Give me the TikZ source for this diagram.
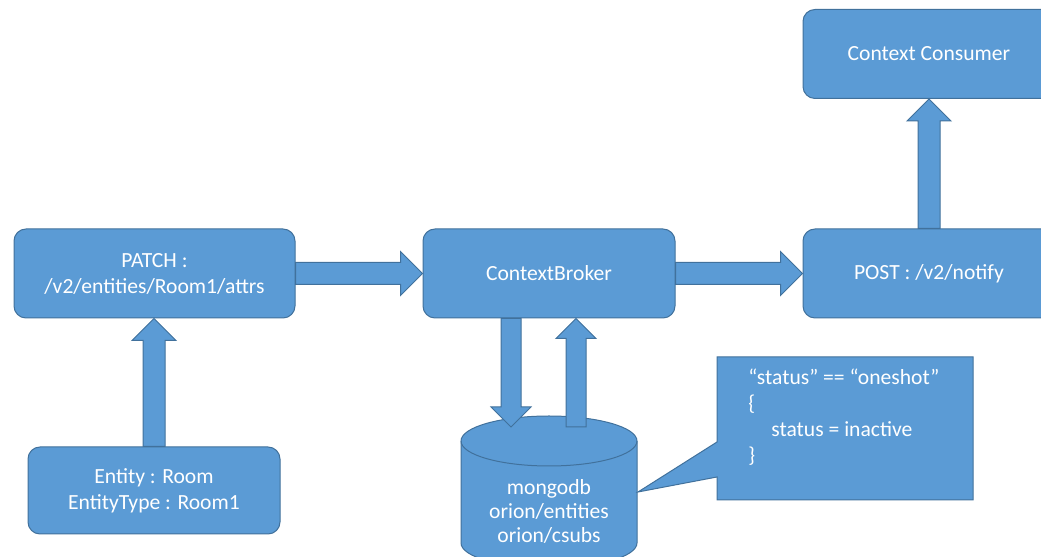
\documentclass[tikz,border=0pt]{standalone}
\usepackage{fontspec}
\setmainfont{Carlito}
\usetikzlibrary{calc}

\definecolor{boxblue}{HTML}{5B9BD5}
\definecolor{boxline}{HTML}{41719C}

\tikzset{
  block/.style={draw=boxline, fill=boxblue, line width=0.5pt, rounded corners=6pt,
    text=white, align=center, minimum width=126pt, minimum height=44.5pt, inner sep=0pt},
  flow/.style={draw=boxline, fill=boxblue, line width=0.5pt},
  whitetext/.style={text=white, inner sep=0pt}
}

% fat arrows, #1 = half shaft width
\newcommand{\fatright}[3][11]{%
  \draw[flow] ($(#2)+(0,#1)$) -- ($(#3)+(-2*#1,#1)$) -- ($(#3)+(-2*#1,2*#1)$) -- (#3)
    -- ($(#3)+(-2*#1,-2*#1)$) -- ($(#3)+(-2*#1,-#1)$) -- ($(#2)+(0,-#1)$) -- cycle;}
\newcommand{\fatup}[3][11]{%
  \draw[flow] ($(#2)+(-#1,0)$) -- ($(#3)+(-#1,-2*#1)$) -- ($(#3)+(-2*#1,-2*#1)$) -- (#3)
    -- ($(#3)+(2*#1,-2*#1)$) -- ($(#3)+(#1,-2*#1)$) -- ($(#2)+(#1,0)$) -- cycle;}
\newcommand{\fatdown}[3][11]{%
  \draw[flow] ($(#2)+(-#1,0)$) -- ($(#3)+(-#1,2*#1)$) -- ($(#3)+(-2*#1,2*#1)$) -- (#3)
    -- ($(#3)+(2*#1,2*#1)$) -- ($(#3)+(#1,2*#1)$) -- ($(#2)+(#1,0)$) -- cycle;}

\begin{document}
\begin{tikzpicture}[x=0.5pt, y=0.5pt, font=\fontsize{10.8pt}{13pt}\selectfont]
  \useasboundingbox (0,0) rectangle (1041,557);
  \clip (0,0) rectangle (1041,557);

  % boxes
  \node[block] (consumer) at (929,503) {Context Consumer};
  \node[block] (post) at (929,283.5) {POST : /v2/notify};
  \node[block] (broker) at (549,283.5) {ContextBroker};
  \node[block, minimum width=140.5pt] (patch) at (154.5,283.5) {PATCH :\\/v2/entities/Room1/attrs};
  \node[block, minimum height=43.5pt] (entity) at (154,66.5) {Entity : Room\\EntityType : Room1};

  % database
  \draw[flow] (461,116) -- (461,14) arc[start angle=180, end angle=360, x radius=88, y radius=25]
    -- (637,116) arc[start angle=0, end angle=180, x radius=88, y radius=25] -- cycle;
  \draw[boxline, line width=0.5pt] (461,116) arc[start angle=180, end angle=360, x radius=88, y radius=25];
  \node[whitetext, align=center, font=\fontsize{10.8pt}{12pt}\selectfont] (db) at (549,46)
    {mongodb\\orion/entities\\orion/csubs};

  % note on the database
  \draw[flow] (717,200) -- (973,200) -- (973,57) -- (717,57) -- (717,80) -- (638,65)
    -- (717,115) -- cycle;
  \node[whitetext, align=left, anchor=north west] (rule) at (748,188)
    {“status” == “oneshot”\\\{\\\hspace*{11.5pt}status = inactive\\\}};

  % arrows
  \coordinate (dbin) at (511,130);
  \coordinate (dbout) at (576,130);
  \fatright{patch.east}{broker.west}
  \fatright{broker.east}{post.west}
  \fatup{post.north}{consumer.south}
  \fatup{entity.north}{entity.north |- patch.south}
  \fatdown[10]{dbin |- broker.south}{dbin}
  \fatup[10]{dbout}{dbout |- broker.south}
\end{tikzpicture}
\end{document}
